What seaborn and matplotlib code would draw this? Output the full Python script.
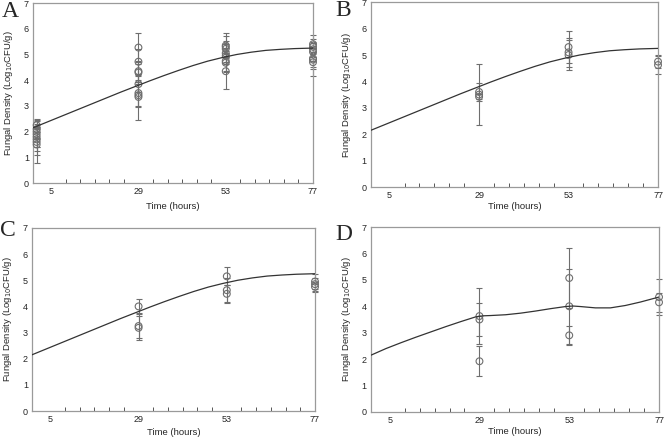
import numpy as np
import pandas as pd
import matplotlib
matplotlib.use("Agg")
import matplotlib.pyplot as plt
import seaborn as sns

sns.set_theme(style="white")
plt.rcParams['font.family'] = ['Liberation Sans', 'DejaVu Sans']

# ---- data ----
panels = ["A", "B", "C", "D"]

# model curves
curve_t = [0, 4, 8, 12, 16, 20, 24, 28, 32, 36, 40, 44, 48, 52, 56, 60, 64, 68, 72, 77]
curve_abc = [2.15, 2.38, 2.61, 2.84, 3.07, 3.30, 3.53, 3.75, 3.97, 4.18, 4.38, 4.57,
             4.74, 4.88, 5.00, 5.09, 5.16, 5.20, 5.23, 5.25]
curve_d_t = [0, 4, 8, 12, 16, 20, 24, 28, 30, 32, 36, 40, 44, 48, 52, 54, 56, 60, 64, 68, 72, 77]
curve_d = [2.15, 2.40, 2.62, 2.83, 3.03, 3.23, 3.42, 3.60, 3.64, 3.65, 3.68, 3.74, 3.82,
           3.91, 3.99, 4.01, 3.99, 3.94, 3.94, 4.03, 4.16, 4.35]

# observations
A_t = [1]*8 + [29]*8 + [53]*8 + [77]*7
A_y = [2.25, 2.1, 2.0, 1.9, 1.8, 1.7, 1.6, 1.5,
       5.27, 4.72, 4.35, 4.3, 3.85, 3.5, 3.42, 3.35,
       5.35, 5.3, 5.22, 5.05, 4.95, 4.75, 4.68, 4.35,
       5.4, 5.3, 5.2, 5.1, 4.85, 4.8, 4.7]
A_e = [0.25, 0.35, 0.3, 0.5, 0.4, 0.45, 0.5, 0.7,
       0.55, 0.5, 0.4, 0.35, 0.3, 0.5, 0.45, 0.9,
       0.5, 0.4, 0.3, 0.35, 0.3, 0.4, 0.35, 0.7,
       0.35, 0.3, 0.3, 0.35, 0.4, 0.3, 0.55]

B_t = [29, 29, 29, 53, 53, 53, 77, 77]
B_y = [3.6, 3.5, 3.42, 5.3, 5.1, 5.0, 4.75, 4.62]
B_e = [0.35, 1.15, 0.1, 0.6, 0.55, 0.55, 0.25, 0.35]

C_t = [29, 29, 29, 53, 53, 53, 77, 77, 77]
C_y = [4.0, 3.25, 3.18, 5.15, 4.62, 4.48, 4.95, 4.85, 4.75]
C_e = [0.27, 0.45, 0.45, 0.35, 0.45, 0.35, 0.3, 0.25, 0.2]

D_t = [29, 29, 29, 53, 53, 53, 77, 77]
D_y = [3.63, 3.5, 1.92, 5.07, 4.0, 2.9, 4.35, 4.15]
D_e = [1.06, 0.62, 0.56, 1.13, 1.42, 0.35, 0.68, 0.35]

xticks = [5, 29, 53, 77]
yticks = [0, 1, 2, 3, 4, 5, 6, 7]

obs = {"A": (A_t, A_y, A_e), "B": (B_t, B_y, B_e), "C": (C_t, C_y, C_e), "D": (D_t, D_y, D_e)}
curves = {"A": (curve_t, curve_abc), "B": (curve_t, curve_abc), "C": (curve_t, curve_abc),
          "D": (curve_d_t, curve_d)}

boxes = {
    "A": [0.0497, 0.582, 0.4217, 0.411],
    "B": [0.5587, 0.573, 0.4323, 0.422],
    "C": [0.0482, 0.0616, 0.4262, 0.418],
    "D": [0.5587, 0.0594, 0.4338, 0.4223],
}
xlabelpads = {"A": 4, "B": 1.5, "C": 3, "D": 1.5}
letter_pos = {"A": (0.003, 0.962), "B": (0.505, 0.964), "C": (0.0, 0.462), "D": (0.505, 0.453)}

fig = plt.figure(figsize=(6.64, 4.38), dpi=100)
frame_col = "#9a9a9a"
pt_col = "#6e6e6e"

for p in panels:
    ax = fig.add_axes(boxes[p])
    t, y, e = obs[p]
    df = pd.DataFrame({"t": t, "y": y, "e": e})
    ct, cy = curves[p]
    cdf = pd.DataFrame({"t": ct, "y": cy})
    ax.errorbar(df["t"], df["y"], yerr=df["e"], fmt="none", ecolor=pt_col,
                elinewidth=0.8, capsize=2.5, capthick=0.8, zorder=2, clip_on=False)
    sns.scatterplot(data=df, x="t", y="y", ax=ax, marker="o", s=24,
                    facecolor="none", edgecolor=pt_col, linewidth=0.8, zorder=3,
                    clip_on=False)
    sns.lineplot(data=cdf, x="t", y="y", ax=ax, color="#333333", linewidth=0.9, zorder=4)
    ax.set_xlim(0, 77)
    ax.set_ylim(0, 7)
    ax.set_xticks(xticks)
    ax.set_xticks(list(range(9, 77, 4)), minor=True)
    ax.set_yticks(yticks)
    ax.tick_params(axis="both", which="major", direction="in", length=3, width=0.7,
                   color="#555555", labelsize=6.5, pad=3)
    ax.tick_params(axis="x", which="minor", direction="in", length=3, width=0.7, color="#555555",
                   bottom=True)
    ax.set_xlabel("Time (hours)", fontsize=6.8, labelpad=xlabelpads[p])
    ax.set_ylabel("Fungal Density (Log$_{10}$CFU/g)", fontsize=6.8, labelpad=6)
    for s in ax.spines.values():
        s.set_color(frame_col)
        s.set_linewidth(0.9)
    ax.set_facecolor("white")
    lx, ly = letter_pos[p]
    fig.text(lx, ly, p, fontsize=17, family="Liberation Serif", ha="left", va="baseline")

fig.savefig("out.png", dpi=100)
